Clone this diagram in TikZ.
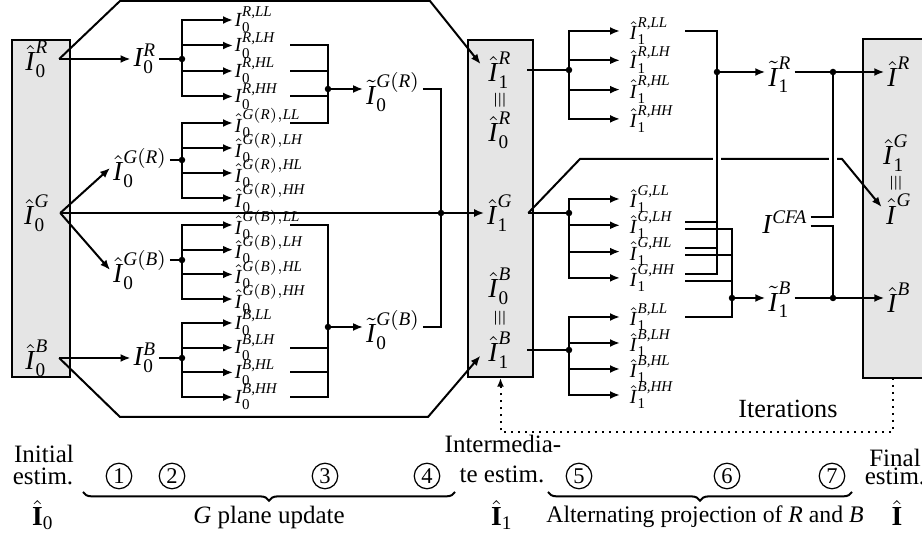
\documentclass[tikz,border=0pt]{standalone}
\usepackage{amsmath}
\usepackage{fontspec}
\setmainfont{Liberation Serif}
\usepackage{graphicx}
\usetikzlibrary{arrows.meta,decorations.pathreplacing,calc}

% image planes set in the text italic
\newcommand{\pI}{\textit{I}\kern0.3pt}
\newcommand{\hI}{\hat{\textit{I}\kern0.5pt}}
\newcommand{\tI}{\tilde{\textit{I}\kern0.5pt}}
\newcommand{\bI}{\hat{\textbf{I}}}

\begin{document}
\begin{tikzpicture}[x=0.4pt, y=-0.4pt,
    lab/.style={font=\fontsize{11}{13}\selectfont, inner sep=1pt},
    eqv/.style={font=\fontsize{8.5}{9}\selectfont, inner sep=0.5pt},
    sub/.style={font=\footnotesize, inner sep=0.5pt, text width=21.4pt, align=left, anchor=west},
    box/.style={draw, thick, fill=gray!20, inner sep=0pt, minimum height=134.8pt},
    arrow/.style={thick, -{Latex[length=4pt,width=3.2pt]}},
    wire/.style={thick},
    bridge/.style={draw=white, line width=3.2pt},
    iter/.style={thick, dotted, -{Latex[length=3.5pt,width=2.8pt]}},
    txt/.style={font=\fontsize{10}{12}\selectfont, inner sep=0pt, anchor=base},
    num/.style={circle, draw, line width=0.5pt, inner sep=0pt, minimum size=10.2pt, font=\fontsize{9}{10}\selectfont},
    brace/.style={thick, decorate, decoration={brace, mirror, amplitude=3.5pt}}
]
\useasboundingbox (0,0) rectangle (922,537);

% Estimate boxes
\node[box, minimum width=23.2pt] (inbox) at (41,208.5) {};
\node[box, minimum width=26pt] (midbox) at (500.5,208.5) {};
\node[box, draw=none, minimum width=23.2pt] (outbox) at (893,208.5) {};
\draw[thick] (outbox.north east) -- (outbox.north west) -- (outbox.south west) -- (outbox.south east);

% Planes inside the boxes
\node[lab] (n0R) at (37,59) {$\hI_{\text{0}}^{\textit{R}}$};
\node[lab] (n0G) at (37,213) {$\hI_{\text{0}}^{\textit{G}}$};
\node[lab] (n0B) at (37,358) {$\hI_{\text{0}}^{\textit{B}}$};
\node[lab] (n1R) at (500,70) {$\hI_{\text{1}}^{\textit{R}}$};
\node[eqv] (eq1) at (500,100) {\rotatebox{90}{$\equiv$}};
\node[lab] (m0R) at (500,130) {$\hI_{\text{0}}^{\textit{R}}$};
\node[lab] (n1G) at (500,213) {$\hI_{\text{1}}^{\textit{G}}$};
\node[lab] (m0B) at (500,286) {$\hI_{\text{0}}^{\textit{B}}$};
\node[eqv] (eq2) at (500,318) {\rotatebox{90}{$\equiv$}};
\node[lab] (n1B) at (500,350) {$\hI_{\text{1}}^{\textit{B}}$};
\node[lab] (nR) at (899,72) {$\hI^{\textit{R}}$};
\node[lab] (o1G) at (896,153) {$\hI_{\text{1}}^{\textit{G}}$};
\node[eqv] (eq3) at (896,183) {\rotatebox{90}{$\equiv$}};
\node[lab] (nG) at (899,209) {$\hI^{\textit{G}}$};
\node[lab] (nB) at (899,298) {$\hI^{\textit{B}}$};

% Intermediate planes
\node[lab] (i0R) at (145,59) {$\pI_{\text{0}}^{\textit{R}}$};
\node[lab] (gR) at (140,168) {$\hI_{\text{0}}^{\textit{G}(\textit{R})}$};
\node[lab] (gB) at (140,270) {$\hI_{\text{0}}^{\textit{G}(\textit{B})}$};
\node[lab] (i0B) at (145,358) {$\pI_{\text{0}}^{\textit{B}}$};
\node[lab] (tGR) at (393,92) {$\tI_{\text{0}}^{\textit{G}(\textit{R})}$};
\node[lab] (tGB) at (393,330) {$\tI_{\text{0}}^{\textit{G}(\textit{B})}$};
\node[lab] (t1R) at (780,75) {$\tI_{\text{1}}^{\textit{R}}$};
\node[lab] (t1B) at (780,300) {$\tI_{\text{1}}^{\textit{B}}$};
\node[lab] (cfa) at (785,222) {$\pI^{\textit{CFA}}$};

% Junctions
\coordinate (jR) at (182,59);
\coordinate (jGR) at (182,160);
\coordinate (jGB) at (182,260);
\coordinate (jB) at (182,358);
\coordinate (jU) at (328,89);
\coordinate (jL) at (328,327);
\coordinate (jM) at (441,213);
\coordinate (jR1) at (569,70);
\coordinate (jG1) at (569,213);
\coordinate (jB1) at (569,350);
\coordinate (cR) at (717,72);
\coordinate (cB) at (732,298);
\coordinate (dR) at (833,72);
\coordinate (dB) at (833,298);

% Subbands
\foreach \band [count=\k from 0] in {LL,LH,HL,HH} {
  \node[sub] (sR\band) at (233,{20+25.5*\k}) {$\pI_{\text{0}}^{\textit{R,\band}}$};
  \node[sub] (sGR\band) at (233,{123+25*\k}) {$\hI_{\text{0}}^{\textit{G}(\textit{R}),\textit{\band}}$};
  \node[sub] (sGB\band) at (233,{225+24.7*\k}) {$\hI_{\text{0}}^{\textit{G}(\textit{B}),\textit{\band}}$};
  \node[sub] (sB\band) at (233,{323+24.7*\k}) {$\pI_{\text{0}}^{\textit{B,\band}}$};
  \node[sub] (s1R\band) at (628,{31+29.3*\k}) {$\hI_{\text{1}}^{\textit{R,\band}}$};
  \node[sub] (s1G\band) at (628,{199+26.3*\k}) {$\hI_{\text{1}}^{\textit{G,\band}}$};
  \node[sub] (s1B\band) at (628,{317+26*\k}) {$\hI_{\text{1}}^{\textit{B,\band}}$};
  \draw[arrow] (jR) |- (sR\band.west);
  \draw[arrow] (jGR) |- (sGR\band.west);
  \draw[arrow] (jGB) |- (sGB\band.west);
  \draw[arrow] (jB) |- (sB\band.west);
  \draw[arrow, shorten >=3.2pt] (jR1) |- (s1R\band.west);
  \draw[arrow, shorten >=3.2pt] (jG1) |- (s1G\band.west);
  \draw[arrow, shorten >=3.2pt] (jB1) |- (s1B\band.west);
}

% G plane update
\draw[arrow] ([xshift=3pt]n0R.east) -- (i0R.west);
\draw[wire] (i0R.east) -- (jR);
\draw[arrow] ([xshift=3pt]n0B.east) -- (i0B.west);
\draw[wire] (i0B.east) -- (jB);
\draw[arrow] ([xshift=3pt]n0G.east) -- (gR.west);
\draw[arrow] ([xshift=3pt]n0G.east) -- (gB.west);
\draw[wire] (gR.east |- jGR) -- (jGR);
\draw[wire] (gB.east |- jGB) -- (jGB);
\draw[arrow] ([xshift=3pt]n0G.east) -- (n1G.west);
\draw[arrow, shorten >=3pt] ([xshift=3pt]n0R.east) -- (120,1) -- (430,1) -- (n1R.west);
\draw[arrow, shorten >=3pt] ([xshift=3pt]n0B.east) -- (120,417) -- (428,417) -- (n1B.west);
\foreach \band in {LH,HL,HH} {
  \draw[wire] (sR\band.east) -| (jU);
  \draw[wire] (sB\band.east) -| (jL);
}
\draw[wire] (sGRLL.east) -| (jU);
\draw[wire] (sGBLL.east) -| (jL);
\draw[arrow] (jU) -- (jU -| tGR.west);
\draw[arrow] (jL) -- (jL -| tGB.west);
\draw[wire] (tGR.east |- jU) -| (jM);
\draw[wire] (tGB.east |- jL) -| (jM);

% Alternating projection
\draw[wire] ([xshift=5pt]n1R.east) -- (jR1);
\draw[wire] ([xshift=5pt]n1G.east) -- (jG1);
\draw[wire] ([xshift=5pt]n1B.east) -- (jB1);
\draw[arrow, shorten >=1pt] ([xshift=5pt]n1G.east) -- (580,159) -- (842,159) -- (nG.west);
\draw[bridge] (717,152) -- (717,166);
\draw[bridge] (833,152) -- (833,166);
\draw[wire] (s1RLL.east) -| (cR);
\foreach \band in {LH,HL,HH} {
  \draw[wire] ([yshift=1.4pt]s1G\band.east) -| (cR);
  \draw[wire] ([yshift=-1.4pt]s1G\band.east) -| (cB);
}
\draw[wire] (s1BLL.east) -| (cB);
\draw[arrow] (cR) -- (cR -| t1R.west);
\draw[arrow] (cB) -- (cB -| t1B.west);
\draw[wire] (t1R.east |- cR) -- (dR);
\draw[wire] (t1B.east |- cB) -- (dB);
\draw[wire] ([yshift=1.8pt]cfa.east) -| (dR);
\draw[wire] ([yshift=-1.8pt]cfa.east) -| (dB);
\draw[arrow] (dR) -- (nR.west);
\draw[arrow] (dB) -- (nB.west);

\foreach \p in {jR,jGR,jGB,jB,jU,jL,jM,jR1,jG1,jB1,cR,cB,dR,dB}
  \fill (\p) circle (1.3pt);

% Iterations
\draw[iter] (outbox.south) -- ++(0,54) -| (midbox.south);
\node[txt, font=\fontsize{10.5}{12}\selectfont] (iterlab) at (788,418) {Iterations};

% Stages
\node[txt] (init1) at (44,463) {Initial};
\node[txt] (init2) at (43,485) {estim.};
\node[lab] (est0) at (43,515) {$\bI_{\text{0}}$};
\node[txt] (mid1) at (503,453) {Intermedia-};
\node[txt] (mid2) at (502,483) {te estim.};
\node[lab] (est1) at (502,515) {$\bI_{\text{1}}$};
\node[txt] (fin1) at (895,467) {Final};
\node[txt] (fin2) at (895,485) {estim.};
\node[lab] (estf) at (897,513) {$\bI$};

\draw[brace] (83,492) -- (455,492);
\node[txt] (gup) at (269,524) {\textit{G} plane update};
\draw[brace] (548,492) -- (852,492);
\node[txt, font=\fontsize{9.5}{11}\selectfont] (alt) at (705,523) {Alternating projection of \textit{R} and \textit{B}};
\foreach \n/\x in {1/119,2/172,3/325,4/427,5/579,6/727,7/832}
  \node[num] (c\n) at (\x,476) {\n};
\end{tikzpicture}
\end{document}
